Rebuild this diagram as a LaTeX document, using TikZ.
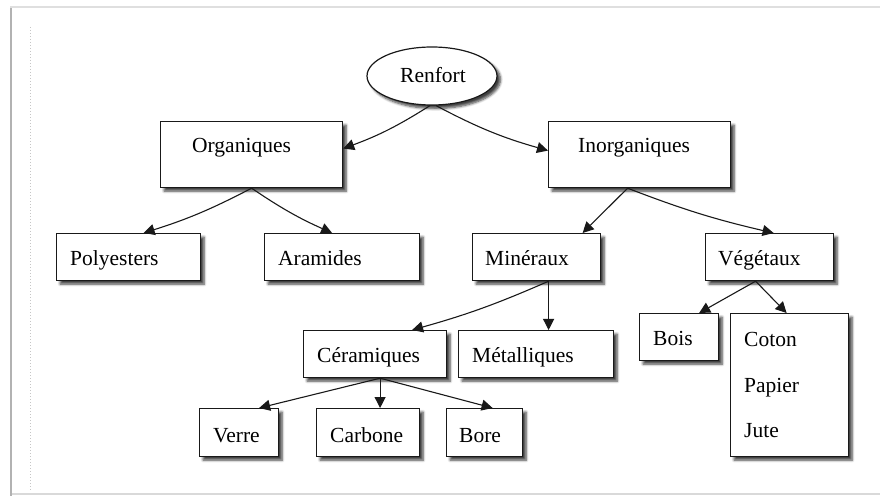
\documentclass[tikz,border=0pt]{standalone}
\usepackage{fontspec}
\setmainfont{Liberation Serif}
\usetikzlibrary{shapes.geometric,shadows.blur,arrows.meta}

\tikzset{
  soft/.style={blur shadow={shadow xshift=3.5pt, shadow yshift=-3.5pt,
      shadow blur steps=6, shadow blur radius=2.5pt, shadow opacity=75}},
  box/.style={draw=black!90, line width=1.2pt, fill=white, soft,
      anchor=north west, inner sep=0pt},
  oval/.style={ellipse, draw=black!90, line width=1.2pt, fill=white, soft,
      inner sep=0pt, minimum width=130pt, minimum height=58pt},
  txt/.style={anchor=base west, inner sep=0pt, text=black,
      font=\fontsize{21.5}{25}\selectfont},
  arr/.style={draw=black!90, line width=1.1pt,
      -{Triangle[length=11pt,width=11pt]}},
}

\begin{document}
\begin{tikzpicture}[x=1pt, y=-1pt]
  \useasboundingbox (0,0) rectangle (880,502);

  % page frame
  \draw[gray!25, line width=2pt] (10,7) -- (880,7);
  \draw[gray!30, line width=1.5pt] (10,494) -- (880,494);
  \draw[gray!60, line width=2.5pt] (11,8) -- (11,496);
  \draw[gray!45, line width=1pt, dotted] (30,27) -- (30,490);

  % root
  \node[oval] (ren) at (432,76) {};
  \node[txt, anchor=base] (tren) at (433,83) {Renfort};

  % level 1
  \node[box, minimum width=182pt, minimum height=66pt] (org) at (160,121) {};
  \node[txt] (torg) at (192,153) {Organiques};
  \node[box, minimum width=182pt, minimum height=66pt] (inorg) at (548,121) {};
  \node[txt] (tinorg) at (578,153) {Inorganiques};

  % level 2
  \node[box, minimum width=144pt, minimum height=47pt] (poly) at (56,233) {};
  \node[txt] (tpoly) at (70,266) {Polyesters};
  \node[box, minimum width=155pt, minimum height=47pt] (aram) at (264,233) {};
  \node[txt] (taram) at (278,266) {Aramides};
  \node[box, minimum width=128pt, minimum height=47pt] (min) at (472,233) {};
  \node[txt] (tmin) at (485,266) {Minéraux};
  \node[box, minimum width=128pt, minimum height=47pt] (veg) at (705,233) {};
  \node[txt] (tveg) at (718,266) {Végétaux};

  % level 3
  \node[box, minimum width=143pt, minimum height=47pt] (cer) at (303,330) {};
  \node[txt] (tcer) at (317,362) {Céramiques};
  \node[box, minimum width=155pt, minimum height=47pt] (met) at (458,330) {};
  \node[txt] (tmet) at (472,362) {Métalliques};
  \node[box, minimum width=79pt, minimum height=47pt] (bois) at (639,313) {};
  \node[txt] (tbois) at (653,345) {Bois};
  \node[box, minimum width=118pt, minimum height=143pt] (cot) at (730,313) {};
  \node[txt] (tcot) at (744,346) {Coton};
  \node[txt] (tpap) at (744,392) {Papier};
  \node[txt] (tjut) at (744,437) {Jute};

  % level 4
  \node[box, minimum width=79pt, minimum height=48pt] (ver) at (199,408) {};
  \node[txt] (tver) at (213,442) {Verre};
  \node[box, minimum width=103pt, minimum height=48pt] (carb) at (316,408) {};
  \node[txt] (tcarb) at (330,442) {Carbone};
  \node[box, minimum width=76pt, minimum height=48pt] (bore) at (446,408) {};
  \node[txt] (tbore) at (459,442) {Bore};

  % connectors (slightly curved splines)
  \draw[arr] ([xshift=-2pt]ren.south) to[bend left=6] ([yshift=6pt]org.east);
  \draw[arr] ([xshift=4pt]ren.south) to[bend right=6] ([yshift=4pt]inorg.west);

  \draw[arr] (org.south) to[bend left=5] ([xshift=15pt]poly.north);
  \draw[arr] (org.south) to[bend right=5] ([xshift=-10pt]aram.north);

  \draw[arr] ([xshift=-12pt]inorg.south) -- ([xshift=46pt]min.north);
  \draw[arr] ([xshift=-12pt]inorg.south) to[bend right=4] ([xshift=4pt]veg.north);

  \draw[arr] ([xshift=12pt]min.south) to[bend left=4] ([xshift=37pt]cer.north);
  \draw[arr] ([xshift=12pt]min.south) -- ([xshift=12.5pt]met.north);

  \draw[arr] ([xshift=-14pt]veg.south) -- ([xshift=20pt]bois.north);
  \draw[arr] ([xshift=-14pt]veg.south) -- ([xshift=-3pt]cot.north);

  \draw[arr] ([xshift=5pt]cer.south) -- ([xshift=20pt]ver.north);
  \draw[arr] ([xshift=5pt]cer.south) -- ([xshift=12pt]carb.north);
  \draw[arr] ([xshift=5pt]cer.south) -- ([xshift=8pt]bore.north);
\end{tikzpicture}
\end{document}
